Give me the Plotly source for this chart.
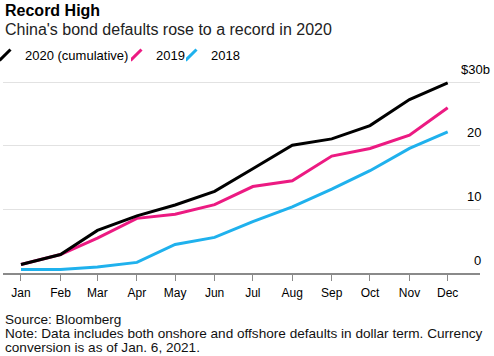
import plotly.graph_objects as go

months = ["Jan", "Feb", "Mar", "Apr", "May", "Jun", "Jul", "Aug", "Sep", "Oct", "Nov", "Dec"]
dates = ["2020-01-01", "2020-02-01", "2020-03-01", "2020-04-01", "2020-05-01", "2020-06-01",
         "2020-07-01", "2020-08-01", "2020-09-01", "2020-10-01", "2020-11-01", "2020-12-01"]
defaults_2020 = [1.35, 2.9, 6.7, 9.0, 10.7, 12.85, 16.4, 20.1, 21.1, 23.2, 27.3, 29.9]
defaults_2019 = [1.35, 2.9, 5.5, 8.6, 9.25, 10.75, 13.6, 14.5, 18.4, 19.6, 21.7, 26.0]
defaults_2018 = [0.57, 0.57, 0.95, 1.67, 4.5, 5.6, 8.1, 10.4, 13.2, 16.1, 19.6, 22.2]
y_ticks = [0, 10, 20, 30]
y_tick_labels = ["0", "10", "20", "$30b"]

series = [
    ("2020 (cumulative)", defaults_2020, "#000000", "legend", 0),
    ("2019", defaults_2019, "#ec1a82", "legend2", 131),
    ("2018", defaults_2018, "#1fb1ed", "legend3", 186),
]

FONT = "Liberation Sans, Arial, sans-serif"

fig = go.Figure()
for name, vals, col, lg, lx in reversed(series):
    fig.add_trace(go.Scatter(x=dates, y=vals, mode="lines", name=name,
                             line=dict(color=col, width=3), showlegend=False,
                             cliponaxis=False, hoverinfo="skip"))
legends = {}
for name, vals, col, lg, lx in series:
    fig.add_trace(go.Scatter(x=[None], y=[None], mode="markers", name=name, legend=lg,
                             marker=dict(symbol="line-ne", size=11, color=col,
                                         line=dict(color=col, width=3)),
                             showlegend=True))
    legends[lg] = dict(orientation="h", xref="container", x=lx / 494, xanchor="left",
                       yref="container", y=1 - 40 / 356, yanchor="top",
                       font=dict(size=13, color="#000"), itemwidth=30, indentation=-15,
                       bgcolor="rgba(0,0,0,0)")

fig.update_layout(
    width=494, height=356,
    margin=dict(l=3, r=14, t=76, b=83, autoexpand=False),
    paper_bgcolor="white", plot_bgcolor="white",
    font=dict(family=FONT, color="#000"),
    showlegend=True,
    xaxis=dict(type="date", range=["2019-12-17 21:00", "2020-12-26 09:00"],
               tickvals=dates, ticktext=months, tickfont=dict(size=12, color="#000"),
               showgrid=False, zeroline=False, showline=True, linecolor="#8a8a8a", linewidth=1.5,
               ticks="outside", ticklen=6, tickcolor="#8a8a8a", tickwidth=1,
               ticklabelstandoff=2),
    yaxis=dict(range=[0, 31], tickvals=y_ticks, showticklabels=False, showgrid=True,
               gridcolor="#e2e2e2", gridwidth=1, zeroline=False, showline=False),
    **legends,
)

for v, lab in zip(y_ticks, y_tick_labels):
    fig.add_annotation(x=(492 - 3) / 477 if lab.startswith("$") else (482.5 - 3) / 477,
                       xref="paper", y=v, yref="y", yshift=13, text=lab, showarrow=False,
                       xanchor="right", yanchor="middle", font=dict(size=13, color="#000"))

fig.add_annotation(text="<b>Record High</b>", xref="paper", yref="paper", x=0,
                   y=1, yshift=76 - 10, xanchor="left", yanchor="middle", showarrow=False,
                   font=dict(size=16, color="#000"))
fig.add_annotation(text="China's bond defaults rose to a record in 2020", xref="paper", yref="paper",
                   x=0, y=1, yshift=76 - 29, xanchor="left", yanchor="middle", showarrow=False,
                   font=dict(size=16, color="#222"))

footer = ["Source: Bloomberg",
          "Note: Data includes both onshore and offshore defaults in dollar term. Currency",
          "conversion is as of Jan. 6, 2021."]
for i, line in enumerate(footer):
    fig.add_annotation(text=line, xref="paper", yref="paper", x=0, y=0,
                       yshift=-(319 + i * 14.4 - 273), xanchor="left", yanchor="middle",
                       showarrow=False, font=dict(size=13.6, color="#111"))

fig.write_html("out.html", config={"displayModeBar": False},
               post_script="document.body.style.margin='0';")
